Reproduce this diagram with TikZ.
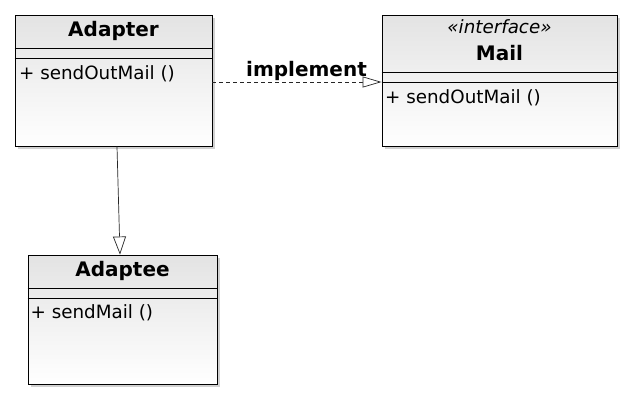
\documentclass[tikz,border=0pt]{standalone}
\usepackage{fontspec}
\setmainfont{DejaVu Sans}
\usetikzlibrary{arrows.meta}
\begin{document}
\begin{tikzpicture}[x=1pt,y=-1pt,
  classbox/.style={draw=black, line width=0.9pt, top color=black!11, bottom color=white, inner sep=0pt},
  boxshadow/.style={fill=black!18, draw=none},
  sepline/.style={draw=black, line width=0.8pt},
  titletext/.style={font=\fontsize{20}{24}\selectfont\bfseries, anchor=base, inner sep=0pt},
  stereotext/.style={font=\fontsize{18.3}{22}\selectfont\itshape, anchor=base, inner sep=0pt},
  methtext/.style={font=\fontsize{18.3}{22}\selectfont, anchor=base west, inner sep=0pt},
  conn/.style={draw=black!85, line width=0.7pt},
  opentri/.style={-{Triangle[open,fill=white,length=#1]}},
]
\useasboundingbox[fill=white] (0,0) rectangle (633,400);
% shadows
\fill[boxshadow] (18,18) rectangle (215,149);
\fill[boxshadow] (385,18) rectangle (620,149);
\fill[boxshadow] (31,258) rectangle (220,387);
% boxes
\node[classbox, minimum width=197pt, minimum height=131pt] (adapter) at (113.5,80.5) {};
\node[classbox, minimum width=235pt, minimum height=131pt] (mail) at (499.5,80.5) {};
\node[classbox, minimum width=189pt, minimum height=129pt] (adaptee) at (122.5,319.5) {};
% compartments
\draw[sepline] (adapter.west |- 0,48) -- (adapter.east |- 0,48);
\draw[sepline] (adapter.west |- 0,58) -- (adapter.east |- 0,58);
\draw[sepline] (mail.west |- 0,72) -- (mail.east |- 0,72);
\draw[sepline] (mail.west |- 0,82) -- (mail.east |- 0,82);
\draw[sepline] (adaptee.west |- 0,288) -- (adaptee.east |- 0,288);
\draw[sepline] (adaptee.west |- 0,298) -- (adaptee.east |- 0,298);
% texts
\node[titletext] (adaptertitle) at (113.5,36) {Adapter};
\node[methtext] (adaptermeth) at (19,79) {+ sendOutMail ()};
\node[stereotext] (mailstereo) at (499.5,33) {«interface»};
\node[titletext] (mailtitle) at (499.5,60) {Mail};
\node[methtext] (mailmeth) at (385,103) {+ sendOutMail ()};
\node[titletext] (adapteetitle) at (122.5,276) {Adaptee};
\node[methtext] (adapteemeth) at (30.5,318) {+ sendMail ()};
% connectors
\draw[conn, dash pattern=on 4pt off 3pt, -{Triangle[open,fill=white,length=19pt,width=11pt]}]
  ([yshift=-1.5pt]adapter.east) -- ([yshift=-1.5pt]mail.west);
\node[titletext] (impl) at (306.5,76) {implement};
\draw[conn, -{Triangle[open,fill=white,length=18pt,width=13pt]}]
  ([xshift=3.5pt]adapter.south) -- ([xshift=-2.5pt]adaptee.north);
\end{tikzpicture}
\end{document}
